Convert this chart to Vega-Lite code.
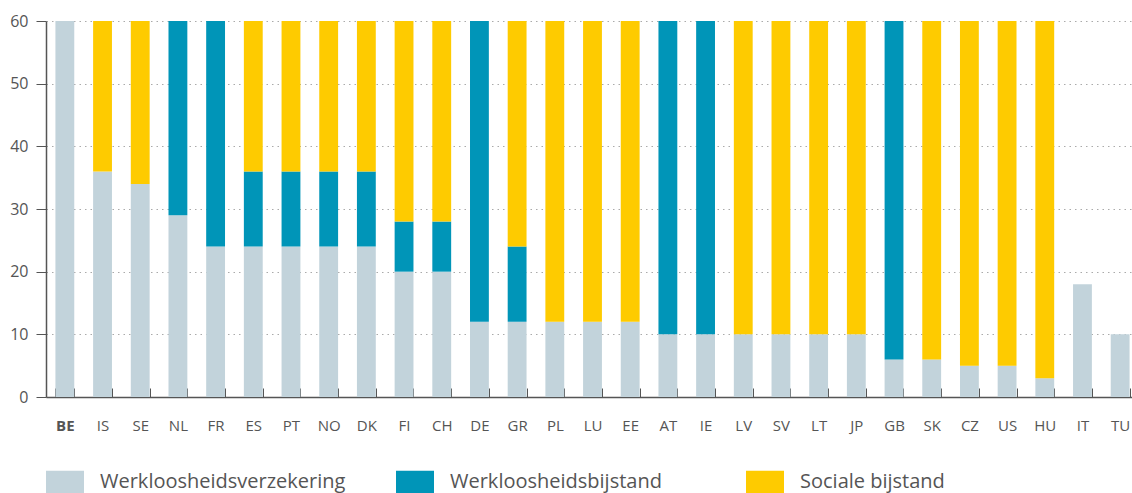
{
  "$schema": "https://vega.github.io/schema/vega-lite/v6.json",
  "autosize": "none",
  "width": 1093,
  "height": 376,
  "padding": {"left": 46, "top": 21, "right": 0, "bottom": 96},
  "background": "white",
  "config": {
    "view": {"stroke": null},
    "font": "Open Sans"
  },
  "data": {
    "values": [
      {"land": "BE", "type": "Werkloosheidsverzekering", "o": 1, "v": 60},
      {"land": "IS", "type": "Werkloosheidsverzekering", "o": 1, "v": 36},
      {"land": "IS", "type": "Sociale bijstand", "o": 3, "v": 24},
      {"land": "SE", "type": "Werkloosheidsverzekering", "o": 1, "v": 34},
      {"land": "SE", "type": "Sociale bijstand", "o": 3, "v": 26},
      {"land": "NL", "type": "Werkloosheidsverzekering", "o": 1, "v": 29},
      {"land": "NL", "type": "Werkloosheidsbijstand", "o": 2, "v": 31},
      {"land": "FR", "type": "Werkloosheidsverzekering", "o": 1, "v": 24},
      {"land": "FR", "type": "Werkloosheidsbijstand", "o": 2, "v": 36},
      {"land": "ES", "type": "Werkloosheidsverzekering", "o": 1, "v": 24},
      {"land": "ES", "type": "Werkloosheidsbijstand", "o": 2, "v": 12},
      {"land": "ES", "type": "Sociale bijstand", "o": 3, "v": 24},
      {"land": "PT", "type": "Werkloosheidsverzekering", "o": 1, "v": 24},
      {"land": "PT", "type": "Werkloosheidsbijstand", "o": 2, "v": 12},
      {"land": "PT", "type": "Sociale bijstand", "o": 3, "v": 24},
      {"land": "NO", "type": "Werkloosheidsverzekering", "o": 1, "v": 24},
      {"land": "NO", "type": "Werkloosheidsbijstand", "o": 2, "v": 12},
      {"land": "NO", "type": "Sociale bijstand", "o": 3, "v": 24},
      {"land": "DK", "type": "Werkloosheidsverzekering", "o": 1, "v": 24},
      {"land": "DK", "type": "Werkloosheidsbijstand", "o": 2, "v": 12},
      {"land": "DK", "type": "Sociale bijstand", "o": 3, "v": 24},
      {"land": "FI", "type": "Werkloosheidsverzekering", "o": 1, "v": 20},
      {"land": "FI", "type": "Werkloosheidsbijstand", "o": 2, "v": 8},
      {"land": "FI", "type": "Sociale bijstand", "o": 3, "v": 32},
      {"land": "CH", "type": "Werkloosheidsverzekering", "o": 1, "v": 20},
      {"land": "CH", "type": "Werkloosheidsbijstand", "o": 2, "v": 8},
      {"land": "CH", "type": "Sociale bijstand", "o": 3, "v": 32},
      {"land": "DE", "type": "Werkloosheidsverzekering", "o": 1, "v": 12},
      {"land": "DE", "type": "Werkloosheidsbijstand", "o": 2, "v": 48},
      {"land": "GR", "type": "Werkloosheidsverzekering", "o": 1, "v": 12},
      {"land": "GR", "type": "Werkloosheidsbijstand", "o": 2, "v": 12},
      {"land": "GR", "type": "Sociale bijstand", "o": 3, "v": 36},
      {"land": "PL", "type": "Werkloosheidsverzekering", "o": 1, "v": 12},
      {"land": "PL", "type": "Sociale bijstand", "o": 3, "v": 48},
      {"land": "LU", "type": "Werkloosheidsverzekering", "o": 1, "v": 12},
      {"land": "LU", "type": "Sociale bijstand", "o": 3, "v": 48},
      {"land": "EE", "type": "Werkloosheidsverzekering", "o": 1, "v": 12},
      {"land": "EE", "type": "Sociale bijstand", "o": 3, "v": 48},
      {"land": "AT", "type": "Werkloosheidsverzekering", "o": 1, "v": 10},
      {"land": "AT", "type": "Werkloosheidsbijstand", "o": 2, "v": 50},
      {"land": "IE", "type": "Werkloosheidsverzekering", "o": 1, "v": 10},
      {"land": "IE", "type": "Werkloosheidsbijstand", "o": 2, "v": 50},
      {"land": "LV", "type": "Werkloosheidsverzekering", "o": 1, "v": 10},
      {"land": "LV", "type": "Sociale bijstand", "o": 3, "v": 50},
      {"land": "SV", "type": "Werkloosheidsverzekering", "o": 1, "v": 10},
      {"land": "SV", "type": "Sociale bijstand", "o": 3, "v": 50},
      {"land": "LT", "type": "Werkloosheidsverzekering", "o": 1, "v": 10},
      {"land": "LT", "type": "Sociale bijstand", "o": 3, "v": 50},
      {"land": "JP", "type": "Werkloosheidsverzekering", "o": 1, "v": 10},
      {"land": "JP", "type": "Sociale bijstand", "o": 3, "v": 50},
      {"land": "GB", "type": "Werkloosheidsverzekering", "o": 1, "v": 6},
      {"land": "GB", "type": "Werkloosheidsbijstand", "o": 2, "v": 54},
      {"land": "SK", "type": "Werkloosheidsverzekering", "o": 1, "v": 6},
      {"land": "SK", "type": "Sociale bijstand", "o": 3, "v": 54},
      {"land": "CZ", "type": "Werkloosheidsverzekering", "o": 1, "v": 5},
      {"land": "CZ", "type": "Sociale bijstand", "o": 3, "v": 55},
      {"land": "US", "type": "Werkloosheidsverzekering", "o": 1, "v": 5},
      {"land": "US", "type": "Sociale bijstand", "o": 3, "v": 55},
      {"land": "HU", "type": "Werkloosheidsverzekering", "o": 1, "v": 3},
      {"land": "HU", "type": "Sociale bijstand", "o": 3, "v": 57},
      {"land": "IT", "type": "Werkloosheidsverzekering", "o": 1, "v": 18},
      {"land": "TU", "type": "Werkloosheidsverzekering", "o": 1, "v": 10}
    ]
  },
  "mark": {"type": "bar"},
  "encoding": {
    "x": {
      "field": "land",
      "type": "nominal",
      "sort": null,
      "scale": {"paddingInner": 0.5, "paddingOuter": 0.25},
      "axis": {
        "title": null,
        "labelAngle": 0,
        "labelFontSize": 15,
        "labelColor": "#555555",
        "labelFontWeight": {"condition": {"test": "datum.value == 'BE'", "value": "bold"}, "value": "normal"},
        "labelPadding": 30,
        "tickBand": "extent",
        "tickSize": -9,
        "tickColor": "#555555",
        "domainColor": "#555555",
        "domainWidth": 1.5,
        "grid": false
      }
    },
    "y": {
      "field": "v",
      "type": "quantitative",
      "stack": "zero",
      "scale": {"domain": [0, 60], "nice": false},
      "axis": {
        "title": null,
        "values": [0, 10, 20, 30, 40, 50, 60],
        "labelFontSize": 16,
        "labelColor": "#555555",
        "labelPadding": 8,
        "tickSize": 10,
        "tickColor": "#555555",
        "domainColor": "#555555",
        "domainWidth": 1.5,
        "grid": true,
        "gridColor": "#aaaaaa",
        "gridDash": [1.5, 4],
        "gridWidth": 1
      }
    },
    "color": {
      "field": "type",
      "type": "nominal",
      "scale": {
        "domain": ["Werkloosheidsverzekering", "Werkloosheidsbijstand", "Sociale bijstand"],
        "range": ["#c2d3db", "#0095b8", "#fecb00"]
      },
      "legend": {
        "title": null,
        "orient": "none",
        "legendX": 0,
        "legendY": 442,
        "direction": "horizontal",
        "symbolType": "M-1,-0.6L1,-0.6L1,1.4L-1,1.4Z",
        "symbolSize": 1444,
        "symbolStrokeWidth": 0,
        "symbolOpacity": 1,
        "labelFontSize": 20,
        "labelColor": "#555555",
        "labelOffset": 16,
        "labelLimit": 400,
        "columnPadding": 50,
        "gridAlign": "all"
      }
    },
    "order": {"field": "o", "type": "quantitative"}
  }
}
